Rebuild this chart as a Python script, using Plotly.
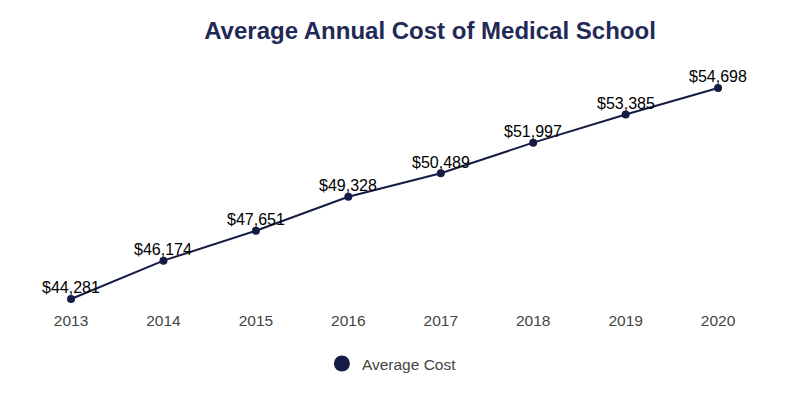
import plotly.graph_objects as go

years = [2013, 2014, 2015, 2016, 2017, 2018, 2019, 2020]
costs = [44281, 46174, 47651, 49328, 50489, 51997, 53385, 54698]
labels = [f"${c:,}" for c in costs]

color = "#141c45"
FONT = "Liberation Sans, Arial, sans-serif"

fig = go.Figure()
fig.add_trace(go.Scatter(
    x=years, y=costs, mode="lines+markers",
    line=dict(color=color, width=2),
    marker=dict(color=color, size=8),
    showlegend=False, cliponaxis=False,
))
fig.add_trace(go.Scatter(
    x=[None], y=[None], mode="markers", name="Average Cost",
    marker=dict(color=color, size=16),
))
for x, y, t in zip(years, costs, labels):
    fig.add_annotation(x=x, y=y, text=t, showarrow=False, yshift=11,
                       font=dict(family=FONT, size=16, color="black"))

fig.update_layout(
    width=800, height=400,
    margin=dict(l=50, r=50, t=60, b=99),
    paper_bgcolor="white", plot_bgcolor="white",
    title=dict(text="<b>Average Annual Cost of Medical School</b>", x=0.5275, xanchor="center",
               y=0.9425, yanchor="middle",
               font=dict(family=FONT, size=24, color="#1f2a56")),
    xaxis=dict(range=[2012.859, 2020.432], tickmode="array", tickvals=years,
               ticktext=[str(y) for y in years], showgrid=False, zeroline=False,
               showline=False, tickfont=dict(family=FONT, size=15.5, color="#444")),
    yaxis=dict(range=[43787, 55682], visible=False, showgrid=False),
    legend=dict(orientation="h", x=0.477, xanchor="center", y=-0.228, yanchor="middle",
                font=dict(family=FONT, size=15.5, color="#444")),
    font=dict(family=FONT),
)

fig.write_html("out.html")
